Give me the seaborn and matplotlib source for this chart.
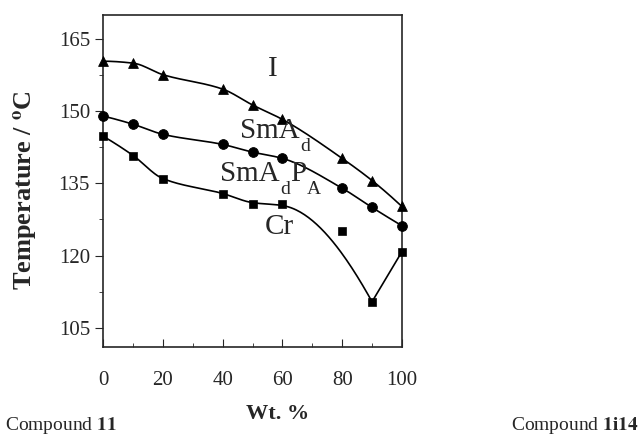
import matplotlib
matplotlib.use('Agg')
import matplotlib.pyplot as plt
import numpy as np
import seaborn as sns

# Data
wt = [0, 10, 20, 40, 50, 60, 80, 90, 100]
t_iso = [160.4, 160.0, 157.6, 154.6, 151.3, 148.3, 140.2, 135.6, 130.2]
t_smad = [149.0, 147.3, 145.2, 143.1, 141.5, 140.2, 134.0, 130.0, 126.2]
t_cr = [144.8, 140.8, 136.0, 132.9, 130.8, 130.8, 125.2, 110.4, 120.8]
# the Cr guide line skips the 80 % point
cr_fit_wt = [0, 10, 20, 40, 50, 60, 90]
cr_fit_t = [144.8, 140.8, 136.0, 132.9, 131.0, 130.4, 110.4]


def pchip(x, y, n=200):
    # shape preserving cubic, so the guide lines do not overshoot
    x = np.asarray(x, float)
    y = np.asarray(y, float)
    h = np.diff(x)
    dl = np.diff(y) / h
    k = len(x)
    d = np.zeros(k)
    for i in range(1, k - 1):
        if dl[i - 1] * dl[i] > 0:
            w1 = 2 * h[i] + h[i - 1]
            w2 = h[i] + 2 * h[i - 1]
            d[i] = (w1 + w2) / (w1 / dl[i - 1] + w2 / dl[i])

    def end(h0, h1, d0, d1):
        s = ((2 * h0 + h1) * d0 - h0 * d1) / (h0 + h1)
        if np.sign(s) != np.sign(d0):
            return 0.0
        if np.sign(d0) != np.sign(d1) and abs(s) > 3 * abs(d0):
            return 3 * d0
        return s

    d[0] = end(h[0], h[1], dl[0], dl[1])
    d[-1] = end(h[-1], h[-2], dl[-1], dl[-2])
    xs = np.linspace(x[0], x[-1], n)
    j = np.clip(np.searchsorted(x, xs) - 1, 0, k - 2)
    t = (xs - x[j]) / h[j]
    h00 = 2 * t**3 - 3 * t**2 + 1
    h10 = t**3 - 2 * t**2 + t
    h01 = -2 * t**3 + 3 * t**2
    h11 = t**3 - t**2
    return xs, h00 * y[j] + h10 * h[j] * d[j] + h01 * y[j + 1] + h11 * h[j] * d[j + 1]


def phase_label(ax, x, y, mains, subs):
    # big text with low subscripts, chained one after the other
    t = ax.text(x, y, mains[0], fontsize=21, ha='left', va='baseline')
    for i, sb in enumerate(subs):
        s = ax.annotate(sb, xy=(1, 0), xycoords=t, xytext=(0.3, -5),
                        textcoords='offset points', fontsize=14, ha='left', va='baseline')
        if i + 1 < len(mains):
            t = ax.annotate(mains[i + 1], xy=(1, 0), xycoords=s, xytext=(0.3, 12.5),
                            textcoords='offset points', fontsize=21, ha='left', va='baseline')


sns.set_style('ticks')
plt.rcParams['font.family'] = ['Liberation Serif', 'DejaVu Serif']
plt.rcParams['mathtext.fontset'] = 'stix'

fig = plt.figure(figsize=(6.41, 4.42), dpi=100)
ax = fig.add_axes([0.161, 0.215, 0.466, 0.751])

for ys, mk in [(t_iso, '^'), (t_smad, 'o')]:
    xs, ss = pchip(wt, ys)
    sns.lineplot(x=xs, y=ss, ax=ax, color='black', lw=1.2, sort=False, estimator=None)
    sns.scatterplot(x=wt, y=ys, ax=ax, color='black', marker=mk, s=50, edgecolor='black', zorder=3, clip_on=False)

xs, ss = pchip(cr_fit_wt, cr_fit_t)
sns.lineplot(x=xs, y=ss, ax=ax, color='black', lw=1.2, sort=False, estimator=None)
sns.lineplot(x=wt[-2:], y=t_cr[-2:], ax=ax, color='black', lw=1.2, sort=False, estimator=None)
sns.scatterplot(x=wt, y=t_cr, ax=ax, color='black', marker='s', s=36, edgecolor='black', zorder=3, clip_on=False)

ax.set_xlim(0, 100)
ax.set_ylim(101, 170)
ax.set_xticks([0, 20, 40, 60, 80, 100])
ax.set_xticks([10, 30, 50, 70, 90], minor=True)
ax.set_yticks([105, 120, 135, 150, 165])
ax.set_yticks([112.5, 127.5, 142.5, 157.5], minor=True)
ax.tick_params(axis='x', which='both', direction='in', labelsize=15, pad=17)
ax.tick_params(axis='x', which='major', length=6)
ax.tick_params(axis='x', which='minor', length=3)
ax.tick_params(axis='y', which='both', direction='out', labelsize=15)
ax.tick_params(axis='y', which='major', length=6)
ax.tick_params(axis='y', which='minor', length=3)
for s in ax.spines.values():
    s.set_linewidth(1.2)

fig.text(26 / 641, 1 - 190 / 442, r'Temperature / $^{\mathbf{o}}$C', fontsize=19,
         fontweight='bold', rotation=90, ha='center', va='center')

ax.text(56.9, 158.8, 'I', fontsize=21, ha='center', va='center')
phase_label(ax, 45.8, 144.4, ['SmA'], ['d'])
phase_label(ax, 39.1, 135.4, ['SmA', 'P'], ['d', 'A'])
ax.text(54.2, 124.4, 'Cr', fontsize=21, ha='left', va='baseline')

fig.text(5 / 641, 0.038, r'Compound $\mathbf{11}$', fontsize=14, ha='left', va='center')
fig.text(278 / 641, 1 - 414 / 442, 'Wt. %', fontsize=16, fontweight='bold', ha='center', va='center')
fig.text(639 / 641, 0.038, r'Compound $\mathbf{1i14}$', fontsize=14, ha='right', va='center')

fig.savefig('out.png', dpi=100)
